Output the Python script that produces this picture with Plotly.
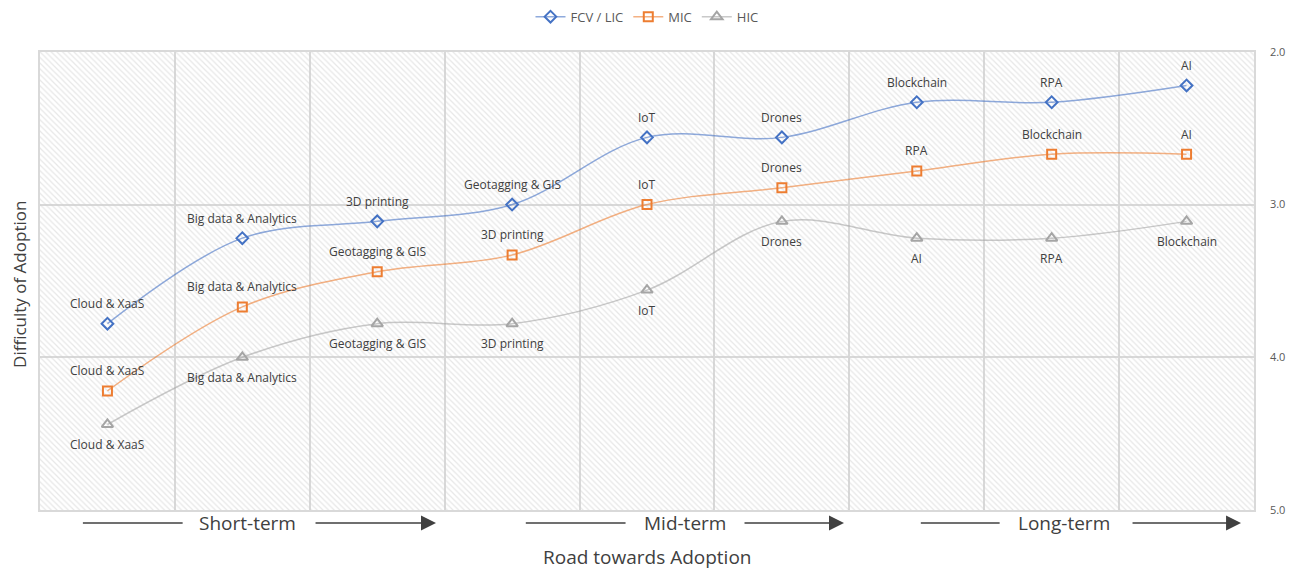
import plotly.graph_objects as go

# Position along the adoption road (1 = earliest)
steps = [1, 2, 3, 4, 5, 6, 7, 8, 9]

fcv_labels = ["Cloud & XaaS", "Big data & Analytics", "3D printing", "Geotagging & GIS",
              "IoT", "Drones", "Blockchain", "RPA", "AI"]
fcv_values = [3.78, 3.22, 3.11, 3.00, 2.56, 2.56, 2.33, 2.33, 2.22]

mic_labels = ["Cloud & XaaS", "Big data & Analytics", "Geotagging & GIS", "3D printing",
              "IoT", "Drones", "RPA", "Blockchain", "AI"]
mic_values = [4.22, 3.67, 3.44, 3.33, 3.00, 2.89, 2.78, 2.67, 2.67]

hic_labels = ["Cloud & XaaS", "Big data & Analytics", "Geotagging & GIS", "3D printing",
              "IoT", "Drones", "AI", "RPA", "Blockchain"]
hic_values = [4.44, 4.00, 3.78, 3.78, 3.56, 3.11, 3.22, 3.22, 3.11]

y_ticks = [2.0, 3.0, 4.0, 5.0]
phases = ["Short-term", "Mid-term", "Long-term"]

FONT = "Open Sans, Noto Sans, sans-serif"
TXT = "#404040"

fig = go.Figure()

# hatched plot-area background
fig.add_trace(go.Bar(
    x=[(steps[0] + steps[-1]) / 2], y=[y_ticks[-1] - y_ticks[0]], base=[y_ticks[0]],
    width=[len(steps)],
    marker=dict(color="rgba(0,0,0,0)", line_width=0,
                pattern=dict(shape="\\", fgcolor="#cfcfcf", size=4, solidity=0.3,
                             fillmode="overlay")),
    showlegend=False, hoverinfo="skip",
))

annotations = []
series = [
    ("FCV / LIC", fcv_values, fcv_labels, "#4472C4", "rgba(68,114,196,0.6)", "diamond-open", 9, 20),
    ("MIC", mic_values, mic_labels, "#ED7D31", "rgba(237,125,49,0.6)", "square-open", 9, 20),
    ("HIC", hic_values, hic_labels, "#A5A5A5", "rgba(165,165,165,0.6)", "triangle-up-open", 10, -20),
]
for name, vals, labels, mcol, lcol, sym, msize, shift in series:
    fig.add_trace(go.Scatter(
        x=steps, y=vals, name=name, mode="lines+markers",
        line=dict(color=lcol, width=1.5, shape="spline", smoothing=1.0),
        marker=dict(symbol=sym, size=msize, color=mcol, line=dict(color=mcol, width=2)),
    ))
    # data labels above (or below) each point
    for xs, v, lab in zip(steps, vals, labels):
        annotations.append(dict(x=xs, y=v, xref="x", yref="y", text=lab, showarrow=False,
                                yshift=shift, xanchor="center", yanchor="middle",
                                font=dict(family=FONT, size=12, color=TXT)))

# phase labels with arrows along the bottom
def px2paper(px):
    return (px - 40) / 1217.0

arrow_y = (510 - 523) / 462.0
phase_geo = [  # (line start, line end, text center, arrow start, arrow end) in pixels
    (83, 183, 248, 315, 437),
    (527, 627, 687, 745, 846),
    (923, 1002, 1067, 1134, 1244),
]
shapes = []
for label, (l0, l1, tc, a0, a1) in zip(phases, phase_geo):
    shapes.append(dict(type="line", xref="paper", yref="paper",
                       x0=px2paper(l0), x1=px2paper(l1), y0=arrow_y, y1=arrow_y,
                       line=dict(color="#404040", width=1.5)))
    annotations.append(dict(x=px2paper(tc), y=arrow_y, xref="paper", yref="paper",
                            text=label, showarrow=False, xanchor="center", yanchor="middle",
                            font=dict(family=FONT, size=19, color=TXT)))
    annotations.append(dict(x=px2paper(a1), y=arrow_y, xref="paper", yref="paper",
                            ax=-(a1 - a0), ay=0, axref="pixel", ayref="pixel",
                            text="", showarrow=True, arrowhead=2, arrowsize=2,
                            arrowwidth=1.5, arrowcolor="#404040", standoff=0))

annotations.append(dict(x=0.5, y=(510 - 557) / 462.0, xref="paper", yref="paper",
                        text="Road towards Adoption", showarrow=False,
                        xanchor="center", yanchor="middle",
                        font=dict(family=FONT, size=19, color=TXT)))
annotations.append(dict(x=(20 - 40) / 1217.0, y=(510 - 283) / 462.0, xref="paper", yref="paper",
                        text="Difficulty of Adoption", showarrow=False, textangle=-90,
                        xanchor="center", yanchor="middle",
                        font=dict(family=FONT, size=17, color=TXT)))

fig.update_layout(
    width=1297, height=569,
    margin=dict(l=40, r=40, t=48, b=59),
    paper_bgcolor="white", plot_bgcolor="white",
    font=dict(family=FONT, color="#595959"),
    legend=dict(orientation="h", x=0.5, xanchor="center", y=0.997, yanchor="top",
                yref="container", font=dict(family=FONT, size=13, color="#595959")),
    annotations=annotations, shapes=shapes,
    bargap=0,
)

fig.update_xaxes(range=[0.5, 9.5], tickvals=[s + 0.5 for s in steps[:-1]],
                 showticklabels=False, ticks="", showgrid=True, gridcolor="#d9d9d9",
                 gridwidth=1.5, zeroline=False, showline=True, linecolor="#d9d9d9",
                 linewidth=1.5, mirror=True)
fig.update_yaxes(range=[y_ticks[-1], y_ticks[0]], tickvals=y_ticks,
                 ticktext=[f"{v:.1f}" for v in y_ticks], side="right",
                 tickfont=dict(family=FONT, size=11, color="#595959"),
                 showgrid=True, gridcolor="#d9d9d9", gridwidth=1.5, zeroline=False,
                 showline=True, linecolor="#d9d9d9", linewidth=1.5, mirror=True,
                 ticks="outside", ticklen=12, tickcolor="rgba(0,0,0,0)")

fig.write_html("out.html")
